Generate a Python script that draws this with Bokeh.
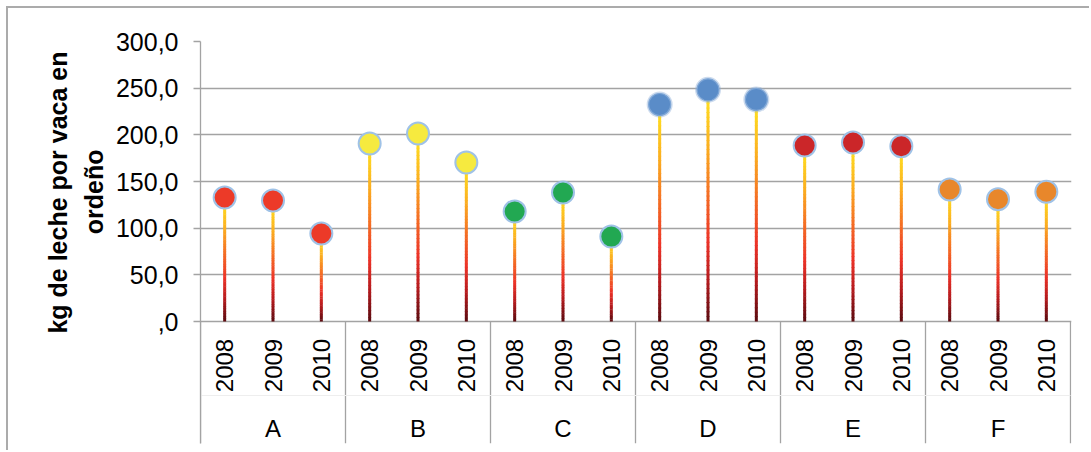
import math
from bokeh.plotting import figure
from bokeh.models import Range1d, FixedTicker, Title
from bokeh.core.properties import value
from bokeh.embed import file_html
from bokeh.resources import INLINE

# --- data -----------------------------------------------------------------
groups = ["A", "B", "C", "D", "E", "F"]
years = ["2008", "2009", "2010"]
milk_a = [132.9, 129.6, 94.3]
milk_b = [190.7, 201.4, 170.4]
milk_c = [117.9, 138.2, 91.0]
milk_d = [232.5, 248.2, 237.9]
milk_e = [188.6, 191.8, 187.8]
milk_f = [141.4, 131.0, 139.0]
group_colors = ["#EC3A28", "#F6EA3F", "#22A852", "#5A8CC8", "#CB2629", "#E8872B"]
y_ticks = [0, 50, 100, 150, 200, 250, 300]
y_tick_labels = [",0", "50,0", "100,0", "150,0", "200,0", "250,0", "300,0"]
y_title = ["kg de leche por vaca en", "ordeño"]

series = [milk_a, milk_b, milk_c, milk_d, milk_e, milk_f]

# --- layout constants (page pixels) ---------------------------------------
PAGE_W, PAGE_H = 1091, 452
MARGIN, BORDER = 6, 2
OFF = MARGIN + BORDER              # canvas origin on the page
W, H = PAGE_W - OFF, PAGE_H - OFF
LEFT, RIGHT = 200, 1071
TOP, BOTTOM = 41, 443
ZERO_PX = 321
FONT = "Liberation Sans"
GRID = "#A3A3A3"

n_slots = len(groups) * len(years)
slot_px = (1070 - LEFT) / n_slots
px_per_unit = (ZERO_PX - TOP) / y_ticks[-1]


def ydata(py):
    return (ZERO_PX - py) / px_per_unit


def xdata(px):
    return (px - LEFT) / slot_px


x_end = xdata(RIGHT)
y_start = ydata(BOTTOM)

p = figure(
    width=W, height=H,
    x_range=Range1d(0, x_end), y_range=Range1d(y_start, y_ticks[-1]),
    output_backend="svg", toolbar_location=None,
    min_border_left=LEFT - OFF, min_border_right=PAGE_W - RIGHT,
    min_border_top=TOP - OFF, min_border_bottom=PAGE_H - BOTTOM,
    margin=(MARGIN, 0, 0, MARGIN),
    styles={"border-left": f"{BORDER}px solid #ABABAB",
            "border-top": f"{BORDER}px solid #ABABAB"},
)
p.outline_line_color = None
p.background_fill_color = "white"
p.border_fill_color = "white"
p.xaxis.visible = False
p.xgrid.visible = False

yax = p.yaxis[0]
yax.ticker = FixedTicker(ticks=y_ticks)
yax.major_label_overrides = {t: lab for t, lab in zip(y_ticks, y_tick_labels)}
yax.major_tick_out = 7
yax.major_tick_in = 0
yax.minor_tick_line_color = None
yax.axis_line_color = GRID
yax.axis_line_width = 1.3
yax.major_tick_line_color = GRID
yax.major_tick_line_width = 1.3
yax.major_label_standoff = 15
yax.major_label_text_font = FONT
yax.major_label_text_font_size = "25px"
yax.major_label_text_color = "black"

p.ygrid.ticker = FixedTicker(ticks=y_ticks)
p.ygrid.grid_line_color = GRID
p.ygrid.grid_line_width = 1.3

# --- flattened points -------------------------------------------------------
xs, vals, cols, yrs = [], [], [], []
for gi, (g, vs) in enumerate(zip(groups, series)):
    for yi, v in enumerate(vs):
        xs.append(gi * len(years) + yi + 0.5)
        vals.append(v)
        cols.append(group_colors[gi])
        yrs.append(years[yi])

# --- gradient stems (dark red at base to yellow at top) --------------------
stops = [(0.0, (0x5A, 0x0B, 0x10)), (0.18, (0xB5, 0x1B, 0x1E)),
         (0.35, (0xEC, 0x33, 0x28)), (0.55, (0xF4, 0x6E, 0x24)),
         (0.75, (0xFB, 0xAE, 0x20)), (1.0, (0xFF, 0xE8, 0x20))]


def grad(t):
    for (t0, c0), (t1, c1) in zip(stops[:-1], stops[1:]):
        if t <= t1:
            f = (t - t0) / (t1 - t0)
            return "#%02x%02x%02x" % tuple(round(a + (b - a) * f) for a, b in zip(c0, c1))
    return "#%02x%02x%02x" % stops[-1][1]


N = 50
sx, sy0, sy1, sc = [], [], [], []
for x, v in zip(xs, vals):
    for k in range(N):
        sx.append(x)
        sy0.append(v * k / N)
        sy1.append(v * (k + 1) / N + v * 0.004)
        sc.append(grad((k + 0.5) / N))
p.segment(x0=sx, y0=sy0, x1=sx, y1=sy1, line_color=sc, line_width=3, line_cap="butt")

# --- markers ----------------------------------------------------------------
d_idx = [i for i, c in enumerate(cols) if c == group_colors[3]]
p.scatter(x=[xs[i] for i in d_idx], y=[vals[i] for i in d_idx], size=26,
          fill_color="#8DB0DA", fill_alpha=0.45, line_color=None)
other = [i for i in range(len(xs)) if i not in d_idx]
p.scatter(x=[xs[i] for i in other], y=[vals[i] for i in other], size=22,
          fill_color=[cols[i] for i in other], line_color="#9FC2E7", line_width=2)
p.scatter(x=[xs[i] for i in d_idx], y=[vals[i] for i in d_idx], size=22,
          fill_color=group_colors[3], line_color="#7EA6D6", line_width=1.2)

# --- category axis: separators, year labels, group labels -----------------
bounds = [g * len(years) for g in range(len(groups) + 1)]
p.segment(x0=bounds, y0=[0] * len(bounds), x1=bounds, y1=[y_start] * len(bounds),
          line_color=GRID, line_width=1.3)
# faint rule between the year row and the group row
p.segment(x0=[bounds[0]], y0=[ydata(395)], x1=[bounds[-1]], y1=[ydata(395)],
          line_color="#EEEEEE", line_width=1)

p.text(x=xs, y=[ydata(365)] * len(xs), text=yrs, angle=math.pi / 2,
       text_align="center", text_baseline="middle",
       text_font=value(FONT), text_font_size="24px", text_color="black")

gx = [gi * len(years) + len(years) / 2 for gi in range(len(groups))]
p.text(x=gx, y=[ydata(428)] * len(gx), text=groups,
       text_align="center", text_baseline="middle",
       text_font=value(FONT), text_font_size="24px", text_color="black")

# --- y-axis title, two lines stacked outward from the axis ---------------
# each line is top-anchored; offsets put both lines on a common centre
title_offsets = {"kg de leche por vaca en": 10, "ordeño": 108}
title_standoffs = {"kg de leche por vaca en": 2, "ordeño": 10}
for line in reversed(y_title):
    p.add_layout(Title(text=line, align="right", offset=title_offsets[line],
                       standoff=title_standoffs[line], text_font=FONT,
                       text_font_size="25px", text_font_style="bold",
                       text_color="black"), "left")

open("out.html", "w").write(file_html(p, INLINE))
